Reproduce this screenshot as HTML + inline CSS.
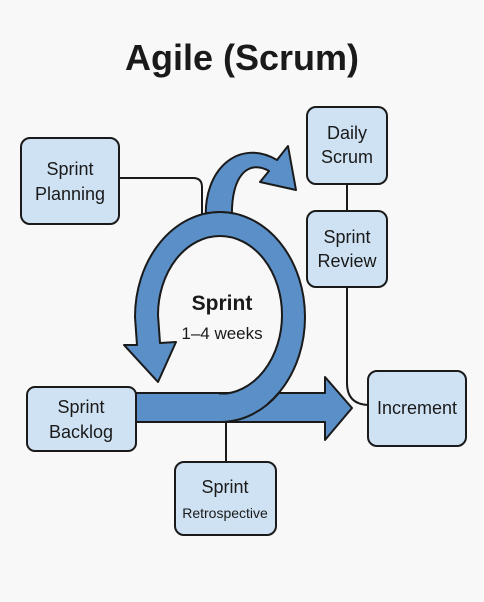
<!DOCTYPE html>
<html><head><meta charset="utf-8"><style>
html,body{margin:0;padding:0;background:#f8f8f8;}
svg{display:block}
text{font-family:"Liberation Sans",sans-serif;fill:#1a1a1a;text-anchor:middle}
</style></head><body>
<svg width="484" height="602" viewBox="0 0 484 602">
<rect width="484" height="602" fill="#f8f8f8"/>
<text x="242" y="70" font-size="36" style="font-weight:600">Agile (Scrum)</text>
<g fill="none" stroke="#1a1a1a" stroke-width="2">
<path d="M119,178 H193 Q202,178 202,187 V216"/>
<path d="M347,184 V211 M347,287 V383 Q347,404 368,405"/>
<path d="M226,422 V462"/>
</g>
<g stroke="#1a1a1a" stroke-width="2" fill="#5b8fc7" stroke-linejoin="round">
<path d="M136,393 H325 V377 L352,408 L325,440 V422 H136 Z"/>
<path d="M206,222 C202,168 240,138 277,160 L288,146 L296,190 L260,182 L269,171 C250,160 230,172 232,222 Z"/>
<path d="M220,422 A85,105 0 0 0 305,317 A85,105 0 0 0 220,212 A85,105 0 0 0 135,317 L137,345 L124,345 L158,382 L176,342 L160,343 L158,315 A62,79 0 0 1 220,236 A62,79 0 0 1 282,315 A62,79 0 0 1 220,394 Z"/>
</g>
<rect x="137" y="394.5" width="130" height="26.5" fill="#5b8fc7"/>
<path d="M279,393 A85,105 0 0 1 220,422" fill="none" stroke="#1a1a1a" stroke-width="2"/>
<text x="222" y="310" font-size="21" style="font-weight:600">Sprint</text>
<text x="222" y="339" font-size="17">1–4 weeks</text>
<g fill="#cfe2f3" stroke="#1a1a1a" stroke-width="2">
<rect x="21" y="138" width="98" height="86" rx="9"/>
<rect x="307" y="107" width="80" height="77" rx="9"/>
<rect x="307" y="211" width="80" height="76" rx="9"/>
<rect x="368" y="371" width="98" height="75" rx="9"/>
<rect x="27" y="387" width="109" height="64" rx="8"/>
<rect x="175" y="462" width="101" height="73" rx="9"/>
</g>
<g font-size="18">
<text x="70" y="175">Sprint</text><text x="70" y="200">Planning</text>
<text x="347" y="139">Daily</text><text x="347" y="163">Scrum</text>
<text x="347" y="243">Sprint</text><text x="347" y="267">Review</text>
<text x="417" y="414">Increment</text>
<text x="81" y="413">Sprint</text><text x="81" y="438">Backlog</text>
<text x="225" y="493">Sprint</text>
<text x="225" y="518" font-size="14">Retrospective</text>
</g>
</svg>
</body></html>
